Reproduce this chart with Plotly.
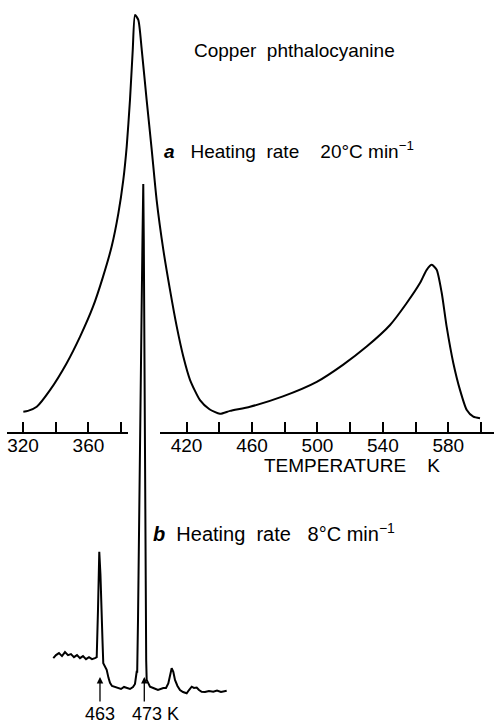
import plotly.graph_objects as go

# ---------------- data ----------------
# Curve a: heating rate 20 C/min, temperature (K) vs signal (arb. units)
a_T = [320.2, 323.0, 328.4, 336.5, 346.7, 354.9, 362.8, 368.9, 374.2, 378.3, 381.3,
       383.4, 385.4, 387.1, 388.5, 390.5, 392.6, 395.6, 398.7, 401.7, 405.8, 409.9,
       414.0, 418.0, 422.1, 428.2, 434.0, 440.4, 446.6, 458.8, 478.9, 499.6, 515.6,
       530.1, 544.4, 554.6, 562.7, 566.8, 569.9, 572.9, 576.0, 579.0, 583.1, 587.2,
       591.3, 595.3, 599.4]
a_S = [4.4, 4.6, 5.6, 9.6, 16.1, 22.5, 29.7, 36.9, 44.2, 52.2, 60.2,
       68.3, 79.5, 91.6, 100.0, 98.8, 91.6, 79.5, 67.5, 55.4, 43.4, 33.7,
       24.9, 17.7, 12.1, 7.2, 5.0, 3.9, 4.6, 5.6, 8.1, 11.6, 15.7,
       20.1, 25.3, 30.6, 35.4, 38.6, 39.8, 38.6, 33.0, 24.9, 16.1, 9.6,
       4.8, 3.2, 2.8]

# Curve b: heating rate 8 C/min
b_T = [452.46, 453.07, 453.74, 454.42, 455.10, 455.78, 456.45, 457.13, 457.81, 458.49,
       459.16, 459.84, 460.52, 461.19, 461.87, 462.26, 462.55, 462.84, 463.11, 463.34,
       463.56, 463.74, 464.13, 464.51, 464.92, 465.26, 465.71, 466.39, 467.06, 467.74,
       468.42, 469.03, 469.77, 470.45, 470.90, 471.28, 471.40, 471.58, 471.80, 472.07,
       472.37, 472.59, 472.77, 472.89, 472.98, 473.07, 473.16, 473.27, 473.43, 473.54,
       474.29, 475.03, 476.09, 477.29, 477.90, 478.42, 478.80, 479.18, 479.55, 479.93,
       480.49, 481.06, 481.74, 482.57, 483.09, 483.70, 484.22, 484.83, 485.35, 485.95,
       486.70, 487.60, 488.58, 489.41, 490.31, 491.60]
b_S = [6.3, 6.9, 7.3, 6.7, 7.5, 6.9, 7.1, 6.5, 6.9, 6.3,
       6.7, 6.1, 6.5, 6.1, 6.3, 6.5, 15.8, 27.3, 22.7, 17.8,
       9.9, 5.3, 4.6, 4.0, 2.4, 1.4, 0.8, 0.6, 0.4, 0.2,
       0.6, 0.4, 0.2, 0.6, 1.2, 3.6, 3.6, 13.8, 33.6, 53.4,
       73.1, 88.9, 100.0, 88.9, 73.1, 53.4, 33.6, 13.8, 5.9, 2.0,
       0.65, 0.4, 0.0, 0.4, 0.4, 1.3, 3.0, 4.3, 3.6, 2.0,
       0.8, 0.0, -0.4, -0.65, 0.0, 0.65, 0.4, 0.5, 0.0, -0.34,
       -0.4, -0.2, -0.34, -0.1, -0.4, -0.14]

left_ticks = [320, 360]
left_labels = ["320", "360"]
right_ticks = [420, 460, 500, 540, 580]
right_labels = ["420", "460", "500", "540", "580"]
minor_step = 20
arrow_T = [463, 473]
arrow_labels = ["463", "473 K"]

FONT = "Liberation Sans, Arial, Helvetica, sans-serif"
fig = go.Figure()

fig.add_trace(go.Scatter(x=a_T, y=a_S, mode="lines", xaxis="x", yaxis="y",
                         line=dict(color="black", width=2, shape="spline", smoothing=0.6),
                         hoverinfo="skip"))
fig.add_trace(go.Scatter(x=b_T, y=b_S, mode="lines", xaxis="x4", yaxis="y2",
                         line=dict(color="black", width=2),
                         hoverinfo="skip"))
# invisible traces to register the tick-axis subplots
fig.add_trace(go.Scatter(x=left_ticks, y=[0.5] * len(left_ticks), mode="markers",
                         xaxis="x2", yaxis="y3", marker=dict(opacity=0), hoverinfo="skip"))
fig.add_trace(go.Scatter(x=right_ticks, y=[0.5] * len(right_ticks), mode="markers",
                         xaxis="x3", yaxis="y3", marker=dict(opacity=0), hoverinfo="skip"))

axis_y = 1 - 431.7 / 726
tickax = dict(showline=True, linecolor="black", linewidth=2, ticks="inside",
              ticklen=10, tickwidth=2, tickcolor="black", showgrid=False,
              zeroline=False, tickfont=dict(family=FONT, size=19, color="black"),
              ticklabelstandoff=-5, anchor="y3", fixedrange=True)
minor = dict(ticks="inside", ticklen=10, tickwidth=2, tickcolor="black",
             tick0=400, dtick=minor_step, showgrid=False)

fig.update_layout(
    width=494, height=726, autosize=False,
    margin=dict(l=0, r=0, t=0, b=0),
    paper_bgcolor="white", plot_bgcolor="rgba(0,0,0,0)",
    showlegend=False,
    xaxis=dict(domain=[0, 1], range=[305.94, 607.95], visible=False, anchor="y"),
    yaxis=dict(domain=[0, 1], range=[-71.33, 103.61], visible=False, anchor="x"),
    xaxis4=dict(domain=[0, 1], range=[440.43, 551.94], visible=False, anchor="y2"),
    yaxis2=dict(domain=[0, 1], range=[-7.115, 136.36], visible=False, anchor="x4"),
    xaxis2=dict(domain=[6.7 / 494, 128 / 494], range=[310.04, 384.19],
                tickvals=left_ticks, ticktext=left_labels, minor=minor, **tickax),
    xaxis3=dict(domain=[160 / 494, 1], range=[403.76, 607.95],
                tickvals=right_ticks, ticktext=right_labels, minor=minor, **tickax),
    yaxis3=dict(domain=[axis_y, 1], range=[0, 1], visible=False, anchor="x2"),
)

nb = "\u00a0"
def ann(text, xpx, ypx, size=19, anchor="left"):
    fig.add_annotation(text=text, x=xpx / 494, y=1 - ypx / 726, xref="paper", yref="paper",
                       xanchor=anchor, yanchor="middle", showarrow=False,
                       font=dict(family=FONT, size=size, color="black"))

ann("Copper" + nb * 2 + "phthalocyanine", 192, 50)
ann("<b><i>a</i></b>" + nb * 3 + "Heating" + nb * 2 + "rate" + nb * 4 + "20°C" + nb + "min<sup>−1</sup>", 162, 150)
ann("TEMPERATURE" + nb * 4 + "K", 262, 465)
ann("<b><i>b</i></b>" + nb * 2 + "Heating" + nb * 2 + "rate" + nb * 3 + "8°C" + nb + "min<sup>−1</sup>", 151, 532, size=20)

# arrows on curve b
for T in arrow_T:
    fig.add_annotation(x=T, y=2.57, xref="x4", yref="y2", text="", showarrow=True,
                       ax=0, ay=26, axref="pixel", ayref="pixel",
                       arrowhead=2, arrowsize=1, arrowwidth=1.3, arrowcolor="black")
fig.add_annotation(x=arrow_T[0], y=0, xref="x4", yref="paper", text=arrow_labels[0],
                   showarrow=False, xanchor="center", yanchor="bottom",
                   font=dict(family=FONT, size=18, color="black"))
fig.add_annotation(x=469.77, y=0, xref="x4", yref="paper", text=arrow_labels[1],
                   showarrow=False, xanchor="left", yanchor="bottom",
                   font=dict(family=FONT, size=18, color="black"))

fig.write_html("out.html", config={"staticPlot": True},
               post_script="document.body.style.margin='0';document.body.style.overflow='hidden';")
